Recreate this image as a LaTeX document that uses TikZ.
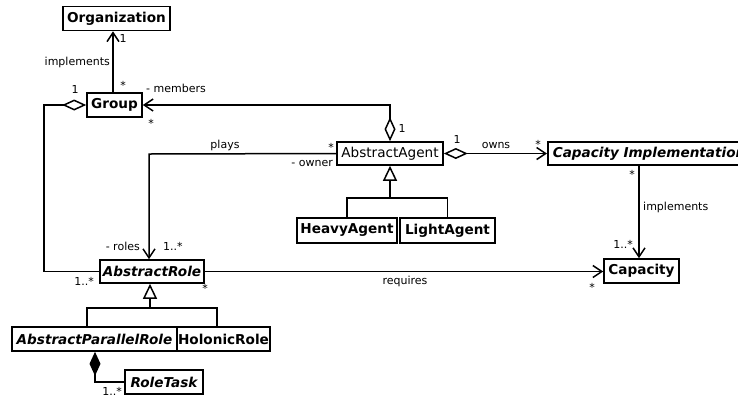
\documentclass[tikz,border=0pt]{standalone}
\usepackage{fontspec}
\setmainfont{DejaVu Sans}
\usetikzlibrary{arrows.meta}
\begin{document}
\begin{tikzpicture}[x=1pt,y=-1pt,
  cls/.style={draw, line width=1.6pt, inner sep=0pt, minimum height=24pt, font=\fontsize{13.6}{15}\selectfont\bfseries},
  ital/.style={font=\fontsize{13.6}{15}\selectfont\bfseries\itshape},
  plain/.style={font=\fontsize{13.6}{15}\selectfont},
  lbl/.style={inner sep=0pt, text height=7.5pt, text depth=2pt, font=\fontsize{11}{12}\selectfont},
  conn/.style={line width=1.5pt},
  umlbarb/.tip={Straight Barb[length=9pt,width=12pt]},
  odiam/.tip={Diamond[open,length=24pt,width=11pt]},
  fdiam/.tip={Diamond[length=24pt,width=11pt]},
  gtri/.tip={Triangle[open,length=15pt,width=14pt]}]
\useasboundingbox (0,0) rectangle (738,400);

% classes
\node[cls, minimum width=107pt] (org) at (116.5,18.5) {Organization};
\node[cls, minimum width=55pt] (grp) at (114.5,105) {Group};
\node[cls, plain, minimum width=106pt, minimum height=23pt] (aa) at (390,153.5) {AbstractAgent};
\node[cls, ital, anchor=west, inner xsep=5pt, text width=230pt, align=left, minimum height=23pt] (ci) at (547,153.5) {Capacity Implementation};
\node[cls, minimum width=100pt, minimum height=25pt] (ha) at (347,230.5) {HeavyAgent};
\node[cls, minimum width=95pt, minimum height=25pt] (la) at (447.5,230.5) {LightAgent};
\node[cls, minimum width=75pt] (cap) at (641.5,271) {Capacity};
\node[cls, ital, minimum width=104pt, minimum height=23pt] (ar) at (152,271.5) {AbstractRole};
\node[cls, ital, minimum width=165pt] (apr) at (94.5,339) {AbstractParallelRole};
\node[cls, minimum width=93pt] (hol) at (223.5,339) {HolonicRole};
\node[cls, ital, minimum width=78pt] (rt) at (164,382) {RoleTask};

% bend points
\coordinate (gl) at (44,105);
\coordinate (mc) at (390,105);
\coordinate (pc) at (149,154);
\coordinate (ga) at (390,198);
\coordinate (gr) at (150,308);

% connectors
\draw[conn, -umlbarb] ([xshift=-1.5pt]grp.north) -- ([xshift=-1.5pt]grp.north |- org.south);
\draw[conn, odiam-] (grp.west) -- (gl) |- (ar.west);
\draw[conn, odiam-umlbarb] (aa.north) -- (mc) -- (grp.east);
\draw[conn, -umlbarb] (aa.west) -- (pc) -- (pc |- ar.north);
\draw[conn, odiam-umlbarb] (aa.east) -- (ci.west);
\draw[conn, -umlbarb] ([xshift=-2.5pt]cap.north |- ci.south) -- ([xshift=-2.5pt]cap.north);
\draw[conn, -umlbarb] (ar.east) -- (ar.east -| cap.west);
\draw[conn, -gtri] (ha.north) |- (ga) -- (aa.south);
\draw[conn] (la.north) |- (ga);
\draw[conn, -gtri] ([xshift=-7.5pt]apr.north) |- (gr) -- (gr |- ar.south);
\draw[conn] ([xshift=-6.5pt]hol.north) |- (gr);
\draw[conn, fdiam-] ([xshift=0.5pt]apr.south) |- (rt.west);

% labels
\node[lbl] (l1) at (123,40) {1};
\node[lbl, anchor=east] (l2) at (110,63) {implements};
\node[lbl] (l3) at (123,87) {*};
\node[lbl] (l4) at (75,91) {1};
\node[lbl, anchor=west] (l5) at (146,90) {- members};
\node[lbl] (l6) at (151,125) {*};
\node[lbl] (l7) at (402,130) {1};
\node[lbl] (l8) at (225,146) {plays};
\node[lbl] (l9) at (331,149) {*};
\node[lbl, anchor=east] (l10) at (333,164) {- owner};
\node[lbl] (l11) at (457,141) {1};
\node[lbl] (l12) at (496,146) {owns};
\node[lbl] (l13) at (538,146) {*};
\node[lbl] (l14) at (632,176) {*};
\node[lbl, anchor=west] (l15) at (643,208) {implements};
\node[lbl, anchor=east] (l16) at (633,246) {1..*};
\node[lbl] (l17) at (592,289) {*};
\node[lbl] (l18) at (405,282) {requires};
\node[lbl] (l19) at (205,290) {*};
\node[lbl, anchor=east] (l20) at (94,283) {1..*};
\node[lbl, anchor=east] (l21) at (140,248) {- roles};
\node[lbl, anchor=west] (l22) at (163,248) {1..*};
\node[lbl, anchor=east] (l23) at (122,393) {1..*};
\end{tikzpicture}
\end{document}
